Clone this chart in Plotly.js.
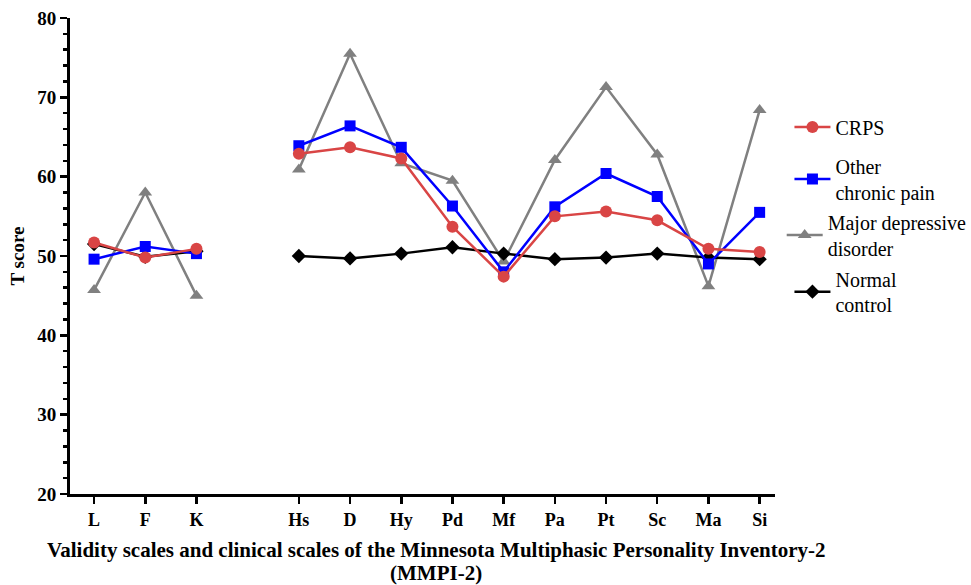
<!DOCTYPE html>
<html>
<head>
<meta charset="utf-8">
<script src="https://cdn.plot.ly/plotly-3.0.1.min.js"></script>
<style>html,body{margin:0;padding:0;background:#fff;}#chart{width:971px;height:585px;}</style>
</head>
<body>
<div id="chart"></div>
<script>
// Scale labels; "" marks the gap between validity and clinical scales
const scales = ["L","F","K","","Hs","D","Hy","Pd","Mf","Pa","Pt","Sc","Ma","Si"];
const crps     = [51.7, 49.8, 50.9, null, 62.9, 63.7, 62.3, 53.7, 47.4, 55.0, 55.6, 54.5, 50.9, 50.5];
const otherPain= [49.6, 51.2, 50.3, null, 63.9, 66.4, 63.7, 56.3, 48.0, 56.2, 60.4, 57.5, 49.0, 55.5];
const mdd      = [45.7, 58.0, 45.0, null, 60.9, 75.5, 61.7, 59.5, 49.3, 62.1, 71.3, 62.8, 46.2, 68.4];
const normal   = [51.5, 49.9, 50.6, null, 50.0, 49.7, 50.3, 51.1, 50.3, 49.6, 49.8, 50.3, 49.8, 49.6];
const seriesNames = ["CRPS","Other<br>chronic pain","Major depressive<br>disorder","Normal<br>control"];

const xs = scales.map((s,i)=>i);
const tickvals = xs.filter((v,i)=>scales[i]!=="");
const ticktext = scales.filter(s=>s!=="");

function tr(y, name, color, symbol, size, legendId){
  return {x: xs, y: y, name: name, type:'scatter', mode:'lines+markers',
    connectgaps:false, legend: legendId,
    line:{color:color, width:2.5},
    marker:{color:color, symbol:symbol, size:size, line:{width:0}}};
}
const data = [
  tr(mdd, seriesNames[2], '#808080', 'triangle-up', 12, 'legend3'),
  tr(normal, seriesNames[3], '#000000', 'diamond', 11, 'legend4'),
  tr(otherPain, seriesNames[1], '#0000ff', 'square', 11, 'legend2'),
  tr(crps, seriesNames[0], '#d94545', 'circle', 12, 'legend')
];
const font = 'Liberation Serif, Times New Roman, serif';
function leg(x, y){
  return {x:x, xanchor:'left', y:y, yanchor:'middle', bgcolor:'rgba(0,0,0,0)',
    font:{family:font, size:20, color:'#000'}, itemwidth:36};
}
const layout = {
  width:971, height:585,
  margin:{l:70, r:196, t:18, b:91, autoexpand:false},
  paper_bgcolor:'#fff', plot_bgcolor:'#fff',
  font:{family:font, color:'#000'},
  showlegend:true,
  legend: leg(1.0205, 0.771),
  legend2: leg(1.0205, 0.662),
  legend3: leg(1.0095, 0.544),
  legend4: leg(1.0205, 0.425),
  xaxis:{range:[-0.47,13.3], tickmode:'array', tickvals:tickvals, ticktext:ticktext,
    showgrid:false, zeroline:false, showline:true, linecolor:'#000', linewidth:3,
    ticks:'outside', ticklen:7, tickwidth:2.5, tickcolor:'#000',
    tickfont:{family:font, size:18, color:'#000', weight:'bold'}},
  yaxis:{range:[20,80], tickvals:[20,30,40,50,60,70,80],
    showgrid:false, zeroline:false, showline:true, linecolor:'#000', linewidth:3,
    ticks:'outside', ticklen:7, tickwidth:2.5, tickcolor:'#000',
    minor:{dtick:2, ticks:'outside', ticklen:4, tickwidth:2.5, tickcolor:'#000'},
    tickfont:{family:font, size:19, color:'#000', weight:'bold'},
    title:{text:'T score', font:{family:font, size:19, color:'#000', weight:'bold'}, standoff:8}},
  annotations:[
    {xref:'paper', yref:'paper', x:(436-70)/705, y:1-(550-18)/476, xanchor:'center', yanchor:'middle',
     showarrow:false, text:'<b>Validity scales and clinical scales of the Minnesota Multiphasic Personality Inventory-2</b>',
     font:{family:font, size:21, color:'#000'}},
    {xref:'paper', yref:'paper', x:(436-70)/705, y:1-(573-18)/476, xanchor:'center', yanchor:'middle',
     showarrow:false, text:'<b>(MMPI-2)</b>',
     font:{family:font, size:21, color:'#000'}}
  ]
};
Plotly.newPlot('chart', data, layout, {displayModeBar:false, staticPlot:true});
</script>
</body>
</html>
